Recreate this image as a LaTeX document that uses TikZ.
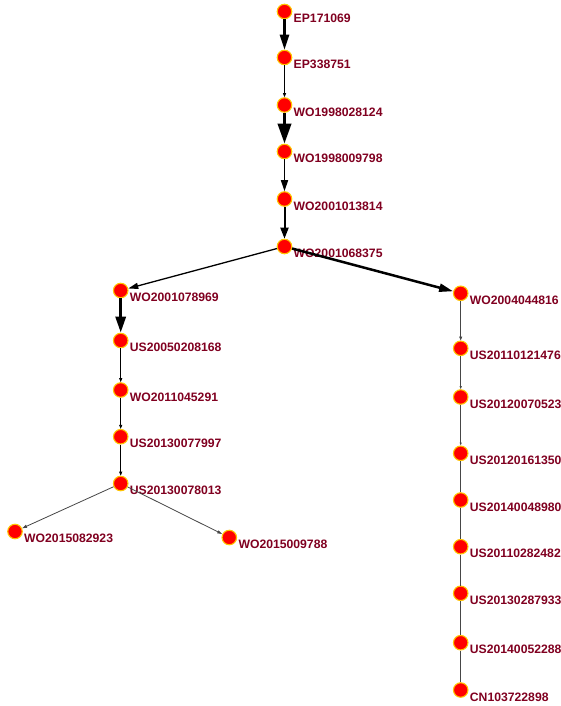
\documentclass[tikz,border=0pt]{standalone}
\usepackage{fontspec}
\setmainfont{Liberation Sans}
\usetikzlibrary{arrows.meta}
\definecolor{lbl}{RGB}{128,0,32}
\definecolor{nodered}{RGB}{255,0,0}
\definecolor{nodeedge}{RGB}{255,195,0}
\definecolor{edgegray}{RGB}{70,70,70}
\begin{document}
\begin{tikzpicture}[x=1pt,y=-1pt,
  pnode/.style={circle,fill=nodered,draw=nodeedge,line width=1.1pt,minimum size=14.5pt,inner sep=0pt},
  plabel/.style={anchor=west,inner sep=1pt,text=lbl,font=\fontsize{12.2}{13}\selectfont\bfseries},
  link/.style={draw=black,line width=#1},
  thinlink/.style={draw=edgegray,line width=0.8pt},
  tip/.style 2 args={-{Triangle[length=#1pt,width=#2pt]}}
]
\useasboundingbox (0,0) rectangle (561,706);
% nodes
\node[pnode] (n1) at (284.5,11.5) {};   \node[plabel] at (292.5,18.5) {EP171069};
\node[pnode] (n2) at (284.5,57.5) {};   \node[plabel] at (292.5,64.5) {EP338751};
\node[pnode] (n3) at (284.5,105) {};    \node[plabel] at (292.5,112) {WO1998028124};
\node[pnode] (n4) at (284.5,151.5) {};  \node[plabel] at (292.5,158.5) {WO1998009798};
\node[pnode] (n5) at (284.5,199) {};    \node[plabel] at (292.5,206) {WO2001013814};
\node[pnode] (n6) at (284.5,246.5) {};  \node[plabel] at (292.5,253.5) {WO2001068375};
\node[pnode] (n7) at (120.7,290.5) {};  \node[plabel] at (128.7,297.5) {WO2001078969};
\node[pnode] (n8) at (120.7,340.5) {};  \node[plabel] at (128.7,347.5) {US20050208168};
\node[pnode] (n9) at (120.7,390) {};    \node[plabel] at (128.7,397) {WO2011045291};
\node[pnode] (n10) at (120.7,436.7) {}; \node[plabel] at (128.7,443.7) {US20130077997};
\node[pnode] (n11) at (120.7,483.5) {}; \node[plabel] at (128.7,490.5) {US20130078013};
\node[pnode] (n12) at (15,531.5) {};    \node[plabel] at (23,538.5) {WO2015082923};
\node[pnode] (n13) at (229.3,537.5) {}; \node[plabel] at (237.3,544.5) {WO2015009788};
\node[pnode] (r1) at (460.7,293.3) {};  \node[plabel] at (468.7,300.3) {WO2004044816};
\node[pnode] (r2) at (460.7,348.3) {};  \node[plabel] at (468.7,355.3) {US20110121476};
\node[pnode] (r3) at (460.7,397) {};    \node[plabel] at (468.7,404) {US20120070523};
\node[pnode] (r4) at (460.7,453.3) {};  \node[plabel] at (468.7,460.3) {US20120161350};
\node[pnode] (r5) at (460.7,500) {};    \node[plabel] at (468.7,507) {US20140048980};
\node[pnode] (r6) at (460.7,546.7) {};  \node[plabel] at (468.7,553.7) {US20110282482};
\node[pnode] (r7) at (460.7,593.3) {};  \node[plabel] at (468.7,600.3) {US20130287933};
\node[pnode] (r8) at (460.7,642.7) {};  \node[plabel] at (468.7,649.7) {US20140052288};
\node[pnode] (r9) at (460.7,690) {};    \node[plabel] at (468.7,697) {CN103722898};
% edges
\draw[link=2.5pt,tip={15}{9}] (n1) -- (n2);
\draw[link=0.8pt,tip={4}{3}] (n2) -- (n3);
\draw[link=3.5pt,tip={20}{13}] (n3) -- (n4);
\draw[link=1.5pt,tip={11}{7}] (n4) -- (n5);
\draw[link=2pt,tip={11}{8}] (n5) -- (n6);
\draw[link=1.3pt,tip={10}{6}] (n6) -- (n7);
\draw[link=2.5pt,tip={14}{8}] (n6) -- (r1);
\draw[link=3pt,tip={16}{10}] (n7) -- (n8);
\draw[link=0.8pt,tip={4}{3}] (n8) -- (n9);
\draw[link=0.8pt,tip={4}{3}] (n9) -- (n10);
\draw[link=0.8pt,tip={4}{3}] (n10) -- (n11);
\draw[thinlink,tip={5}{3}] (n11) -- (n12);
\draw[thinlink,tip={5}{3}] (n11) -- (n13);
\draw[thinlink,tip={4}{3}] (r1) -- (r2);
\draw[thinlink,tip={3}{2}] (r2) -- (r3);
\draw[thinlink,tip={3}{2}] (r3) -- (r4);
\draw[thinlink] (r4) -- (r5);
\draw[thinlink] (r5) -- (r6);
\draw[thinlink] (r6) -- (r7);
\draw[thinlink] (r7) -- (r8);
\draw[thinlink] (r8) -- (r9);
\end{tikzpicture}
\end{document}
